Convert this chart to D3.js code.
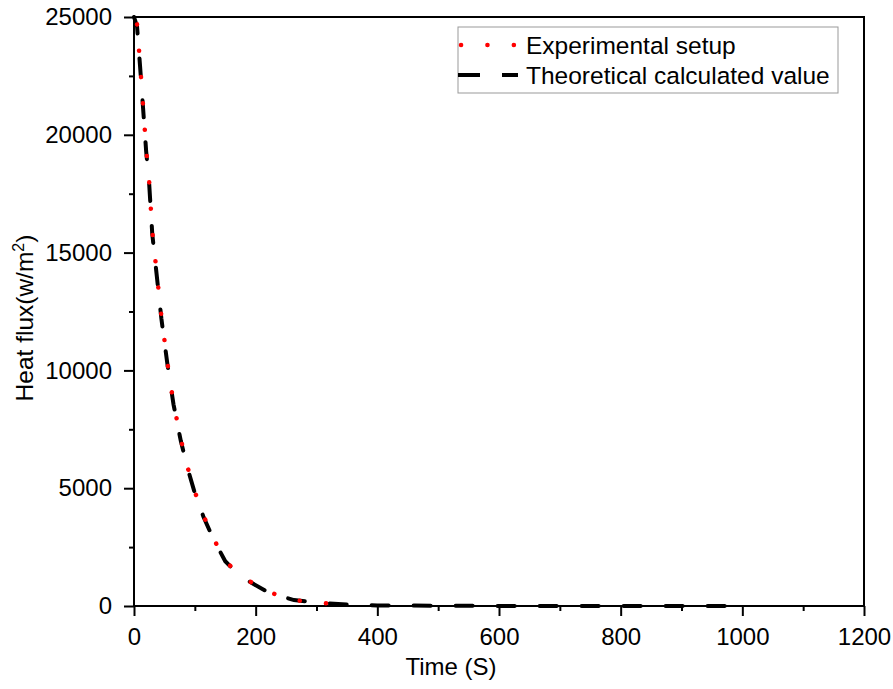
<!DOCTYPE html>
<html>
<head>
<meta charset="utf-8">
<script src="https://cdn.jsdelivr.net/npm/d3@7"></script>
<style>
  body { margin: 0; background: #fff; }
  svg text { font-family: Arial, "Liberation Sans", sans-serif; fill: #000; }
</style>
</head>
<body>
<svg id="chart" width="893" height="689"></svg>
<script>
const timeExp = [0, 5, 10, 15, 20, 25, 30, 35, 45, 55, 65, 77, 88, 99, 114, 130, 150, 170, 190, 220, 263, 300, 350];
const heatExp = [25000, 24700, 23000, 21200, 19400, 18000, 15900, 14700, 12300, 10300, 8600, 7075, 5900, 4920, 3850, 2900, 1920, 1400, 1050, 600, 255, 140, 60];

// Theoretical calculated values
const timeTheo = [0, 5, 10, 15, 20, 25, 30, 35, 45, 55, 65, 77, 88, 99, 114, 130, 150, 170, 190, 220, 263, 300, 350, 400, 500, 600, 700, 800, 900, 1000];
const heatTheo = [25000, 24600, 22900, 21100, 19300, 17900, 15800, 14600, 12200, 10250, 8550, 7000, 5850, 4880, 3800, 2870, 1900, 1380, 1030, 590, 250, 140, 60, 25, 10, 5, 3, 2, 1, 0];

const seriesNames = ["Experimental setup", "Theoretical calculated value"];
const xMajor = [0, 200, 400, 600, 800, 1000, 1200];
const xMinor = [100, 300, 500, 700, 900, 1100];
const yMajor = [0, 5000, 10000, 15000, 20000, 25000];
const yMinor = [2500, 7500, 12500, 17500, 22500];

const W = 893, H = 689;
const margin = { left: 134, right: 29, top: 17, bottom: 83 };
const plotW = W - margin.left - margin.right;
const plotH = H - margin.top - margin.bottom;
const FONT = 24;

const svg = d3.select("#chart");
const g = svg.append("g").attr("transform", `translate(${margin.left},${margin.top})`);

const x = d3.scaleLinear().domain([0, 1200]).range([0, plotW]);
const y = d3.scaleLinear().domain([0, 25000]).range([plotH, 0]);

// axes (major with labels, minor without)
function styleAxis(sel) {
  sel.select(".domain").remove();
  sel.selectAll(".tick line").attr("stroke", "#000").attr("stroke-width", 2);
  sel.selectAll(".tick text").style("font-size", FONT + "px");
}
g.append("g").attr("transform", `translate(0,${plotH})`)
  .call(d3.axisBottom(x).tickValues(xMajor).tickSize(10).tickPadding(12).tickFormat(d3.format("d")))
  .call(styleAxis);
g.append("g").attr("transform", `translate(0,${plotH})`)
  .call(d3.axisBottom(x).tickValues(xMinor).tickSize(5).tickFormat(""))
  .call(styleAxis);
g.append("g")
  .call(d3.axisLeft(y).tickValues(yMajor).tickSize(10).tickPadding(12).tickFormat(d3.format("d")))
  .call(styleAxis);
g.append("g")
  .call(d3.axisLeft(y).tickValues(yMinor).tickSize(5).tickFormat(""))
  .call(styleAxis);

// frame
g.append("rect")
  .attr("x", 0).attr("y", 0).attr("width", plotW).attr("height", plotH)
  .attr("fill", "none").attr("stroke", "#000").attr("stroke-width", 2);

// lines
const line = d3.line().x(d => x(d[0])).y(d => y(d[1]));
const theo = timeTheo.map((t, i) => [t, heatTheo[i]]);
const expt = timeExp.map((t, i) => [t, heatExp[i]]);

g.append("path").datum(theo)
  .attr("d", line).attr("fill", "none")
  .attr("stroke", "#000").attr("stroke-width", 4)
  .attr("stroke-dasharray", "17,25").attr("stroke-linecap", "round");

g.append("path").datum(expt)
  .attr("d", line).attr("fill", "none")
  .attr("stroke", "#ff0000").attr("stroke-width", 4.5)
  .attr("stroke-dasharray", "0.1,26.3").attr("stroke-dashoffset", -8)
  .attr("stroke-linecap", "round");

// axis titles
svg.append("text")
  .attr("x", 451).attr("y", 675)
  .attr("text-anchor", "middle").style("font-size", FONT + "px")
  .text("Time (S)");

const yt = svg.append("text")
  .attr("transform", "translate(33,318) rotate(-90)")
  .attr("text-anchor", "middle").style("font-size", "24.5px");
yt.append("tspan").text("Heat flux(w/m");
yt.append("tspan").attr("dy", -9).style("font-size", "16px").text("2");
yt.append("tspan").attr("dy", 9).text(")");

// legend
const lg = svg.append("g");
lg.append("rect")
  .attr("x", 458).attr("y", 27).attr("width", 380).attr("height", 66)
  .attr("fill", "#fff").attr("stroke", "#999").attr("stroke-width", 1);
const legendStyles = [
  { color: "#ff0000", width: 4.5, dash: "0.1,26.3", cap: "round", y: 45 },
  { color: "#000", width: 4, dash: "22,22", cap: "butt", y: 75 }
];
seriesNames.forEach((name, i) => {
  const s = legendStyles[i];
  lg.append("line")
    .attr("x1", i === 0 ? 461 : 458).attr("x2", 518)
    .attr("y1", s.y).attr("y2", s.y)
    .attr("stroke", s.color).attr("stroke-width", s.width)
    .attr("stroke-dasharray", s.dash).attr("stroke-linecap", s.cap);
  lg.append("text")
    .attr("x", 526).attr("y", s.y).attr("dy", "0.35em")
    .style("font-size", "24.5px")
    .text(name);
});
</script>
</body>
</html>
